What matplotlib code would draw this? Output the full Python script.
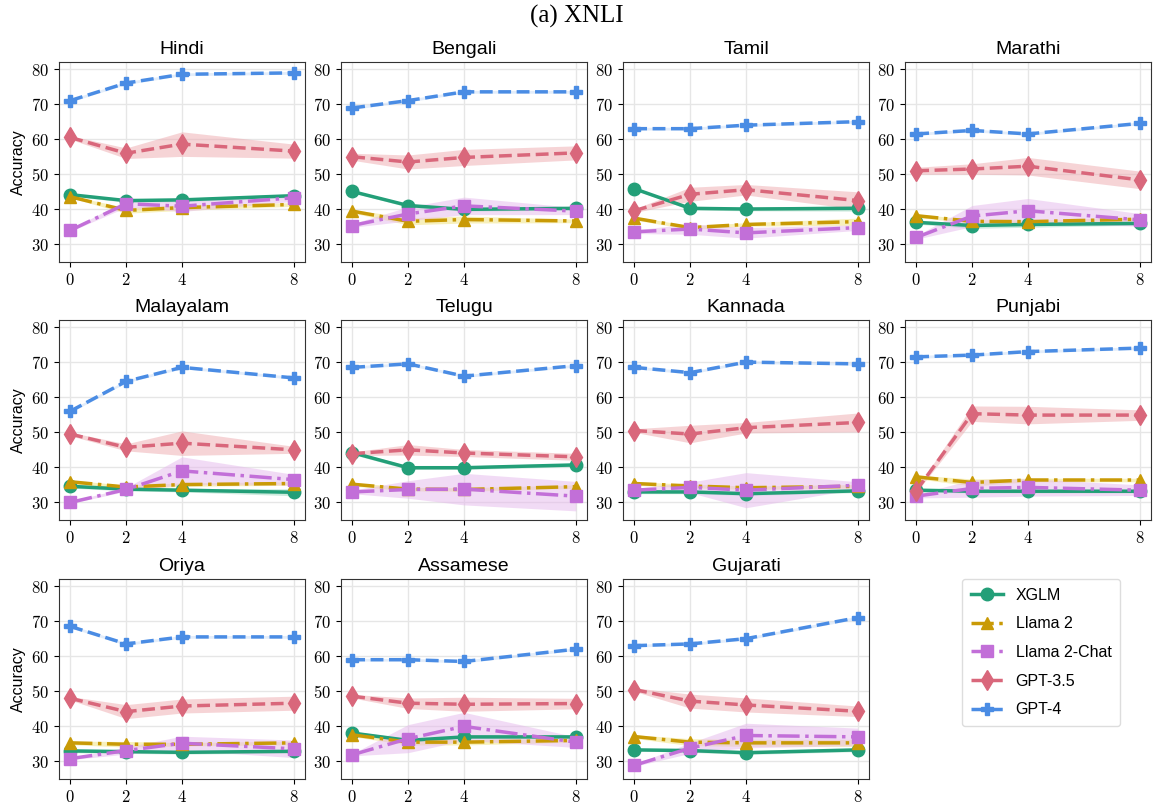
import matplotlib
matplotlib.use('Agg')
import matplotlib.pyplot as plt
import numpy as np

shots = [0, 2, 4, 8]
languages = ['Hindi', 'Bengali', 'Tamil', 'Marathi', 'Malayalam', 'Telugu',
             'Kannada', 'Punjabi', 'Oriya', 'Assamese', 'Gujarati']
models = ['XGLM', 'Llama 2', 'Llama 2-Chat', 'GPT-3.5', 'GPT-4']

# mean accuracy per language (rows) and shot count (cols)
xglm = [[44.2, 42.5, 42.7, 43.9], [45.1, 41.1, 40.0, 40.3], [45.9, 40.3, 40.1, 40.3],
        [36.3, 35.4, 35.7, 36.0], [34.6, 33.8, 33.5, 32.9], [44.2, 39.9, 39.9, 40.7],
        [33.0, 33.0, 32.5, 33.3], [33.5, 33.2, 33.2, 33.2], [33.0, 32.8, 32.6, 32.9],
        [38.1, 36.0, 37.0, 37.0], [33.3, 33.1, 32.5, 33.3]]
llama2 = [[43.6, 39.7, 40.5, 41.4], [39.5, 36.6, 37.1, 36.7], [37.5, 34.8, 35.7, 36.5],
          [38.2, 36.6, 36.5, 37.2], [35.9, 34.4, 35.1, 35.4], [35.2, 33.8, 33.7, 34.5],
          [35.4, 34.7, 34.2, 34.6], [37.3, 35.7, 36.4, 36.4], [35.3, 34.9, 34.9, 35.3],
          [37.6, 35.5, 35.5, 36.0], [37.1, 35.5, 35.3, 35.3]]
llama2_chat = [[34.0, 41.6, 40.9, 43.3], [35.4, 38.7, 41.0, 39.5], [33.6, 34.4, 33.3, 34.8],
               [32.0, 38.1, 39.6, 37.0], [30.0, 33.7, 39.0, 36.5], [33.0, 33.7, 33.8, 31.8],
               [33.5, 34.3, 33.5, 34.9], [31.8, 34.0, 34.3, 33.5], [30.8, 33.1, 35.2, 33.6],
               [31.9, 36.5, 40.0, 35.5], [28.9, 33.8, 37.4, 37.0]]
gpt35 = [[60.5, 56.0, 58.6, 56.6], [55.0, 53.5, 54.8, 56.1], [39.6, 44.3, 45.6, 42.5],
         [51.0, 51.5, 52.3, 48.4], [49.5, 45.7, 46.9, 45.0], [43.9, 45.0, 44.1, 43.0],
         [50.5, 49.5, 51.3, 52.8], [33.3, 55.3, 54.9, 54.9], [48.0, 44.2, 45.8, 46.6],
         [48.6, 46.6, 46.3, 46.5], [50.5, 47.2, 46.1, 44.3]]
gpt4 = [[71.0, 76.0, 78.5, 78.9], [68.9, 71.0, 73.5, 73.5], [63.0, 63.0, 64.0, 65.0],
        [61.5, 62.5, 61.5, 64.5], [56.0, 64.5, 68.5, 65.5], [68.5, 69.5, 66.0, 69.0],
        [68.5, 67.0, 70.0, 69.5], [71.5, 72.0, 73.0, 74.0], [68.5, 63.5, 65.5, 65.5],
        [59.0, 59.0, 58.5, 62.0], [63.0, 63.5, 65.0, 71.0]]

# spread (std) for the shaded bands
xglm_sd = [[0.4, 0.5, 0.5, 0.5], [0.3, 0.5, 0.5, 0.5], [0.3, 0.5, 0.5, 0.8],
           [0.5, 0.8, 0.8, 0.5], [0.5, 0.5, 0.5, 1.0], [0.5, 0.5, 0.5, 0.5],
           [0.5, 0.5, 0.5, 0.5], [0.5, 0.5, 0.5, 0.5], [0.5, 0.5, 0.5, 0.5],
           [0.5, 0.5, 0.5, 0.5], [0.3, 0.5, 0.5, 0.5]]
llama2_sd = [[0.3, 0.8, 0.8, 0.5], [0.5, 1.0, 1.0, 0.5], [0.5, 0.5, 0.5, 1.0],
             [0.5, 0.5, 0.5, 0.5], [0.5, 0.5, 0.5, 0.5], [0.5, 0.5, 0.5, 0.5],
             [0.5, 0.5, 0.5, 0.5], [0.5, 1.0, 0.5, 0.5], [0.5, 0.8, 0.5, 0.5],
             [0.5, 0.8, 0.8, 0.5], [0.5, 1.0, 1.0, 1.0]]
llama2_chat_sd = [[0.3, 1.0, 1.5, 1.0], [0.5, 2.0, 2.5, 1.0], [0.5, 1.5, 1.5, 0.8],
                  [0.5, 3.0, 3.5, 1.8], [0.3, 0.5, 4.0, 1.5], [0.5, 2.5, 4.5, 4.2],
                  [0.5, 1.5, 5.0, 1.0], [0.5, 2.5, 2.5, 1.5], [0.3, 1.0, 2.0, 2.5],
                  [0.3, 4.0, 4.0, 1.5], [0.3, 1.5, 3.5, 2.5]]
gpt35_sd = [[0.5, 1.5, 3.5, 2.0], [1.0, 2.0, 2.3, 2.0], [0.5, 2.0, 1.5, 2.5],
            [1.0, 1.5, 2.5, 2.5], [0.5, 1.0, 3.5, 1.0], [0.5, 1.5, 1.0, 1.0],
            [0.5, 2.5, 1.5, 2.7], [0.5, 2.2, 2.5, 1.5], [0.5, 2.0, 2.0, 2.0],
            [0.5, 1.5, 2.0, 1.5], [0.5, 2.0, 2.0, 1.5]]
gpt4_sd = [[0.4] * 4 for _ in languages]

means = [xglm, llama2, llama2_chat, gpt35, gpt4]
stds = [xglm_sd, llama2_sd, llama2_chat_sd, gpt35_sd, gpt4_sd]
colors = ['#239f78', '#c99a06', '#c26fd8', '#d9677b', '#4a8ce4']
band_colors = ['#9fd8bf', '#f0e27a', '#e5b8ec', '#eeaaaf', '#c8dcf6']
styles = ['-', '-.', '-.', '--', '--']
markers = ['o', '^', 's', 'd', 'P']

plt.rcParams['font.family'] = ['Liberation Sans', 'DejaVu Sans']
plt.rcParams['axes.formatter.use_mathtext'] = True

fig = plt.figure(figsize=(11.53, 8.09), dpi=100)
W, H = 1153., 809.
lefts = [59, 341, 623, 905]
tops = [62, 320, 579]
aw, ah = 246, 200

for k, lang in enumerate(languages):
    r, c = divmod(k, 4)
    ax = fig.add_axes([lefts[c] / W, 1 - (tops[r] + ah) / H, aw / W, ah / H])
    for m in range(5):
        y = np.array(means[m][k])
        s = np.array(stds[m][k])
        ax.fill_between(shots, y - s, y + s, color=band_colors[m], alpha=0.5, lw=0, zorder=2)
        ax.plot(shots, y, color=colors[m], ls=styles[m], marker=markers[m], lw=2.5,
                ms=9 if markers[m] != 'd' else 10, label=models[m], zorder=3)
    ax.set_xlim(-0.4, 8.4)
    ax.set_ylim(25, 82)
    ax.set_xticks(shots)
    ax.set_yticks([30, 40, 50, 60, 70, 80])
    ax.grid(True, color='#e6e6e6', lw=1)
    ax.set_axisbelow(True)
    for lab in ax.get_xticklabels() + ax.get_yticklabels():
        lab.set_fontfamily('cmr10')
        lab.set_fontsize(12)
    for sp in ax.spines.values():
        sp.set_color('#333333')
    ax.set_title(lang, fontsize=14, pad=6)
    if c == 0:
        ax.set_ylabel('Accuracy', fontsize=11.5)
    if k == 0:
        handles, labels = ax.get_legend_handles_labels()

fig.legend(handles, labels, loc='upper left', bbox_to_anchor=(962 / W, 1 - 579 / H),
           borderaxespad=0, fontsize=11.5, handlelength=2.0, labelspacing=0.85,
           borderpad=0.55, edgecolor='#dddddd', framealpha=1, fancybox=True)

fig.text(0.5, 1 - 16 / H, '(a) XNLI', ha='center', va='center',
         fontfamily='Liberation Serif', fontsize=18)

fig.savefig('out.png', dpi=100)
